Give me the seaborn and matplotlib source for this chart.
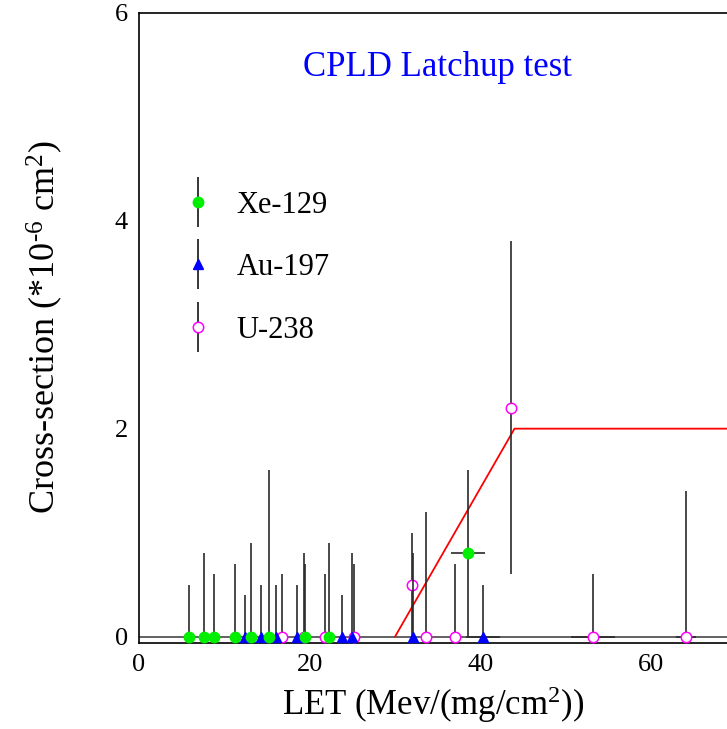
import matplotlib
matplotlib.use("Agg")
import matplotlib.pyplot as plt
from matplotlib.legend_handler import HandlerErrorbar
from matplotlib.container import ErrorbarContainer
from matplotlib.lines import Line2D
from matplotlib.collections import LineCollection
import seaborn as sns
import pandas as pd

# Xe-129 runs: LET, cross-section, error bars
xe_let = [5.8, 7.6, 8.8, 11.3, 13.1, 15.2, 19.4, 22.3, 38.6]
xe_sigma = [0, 0, 0, 0, 0, 0, 0, 0, 0.8]
xe_err_lo = [0, 0, 0, 0, 0, 0, 0, 0, 0.8]
xe_err_hi = [0.5, 0.8, 0.6, 0.7, 0.9, 1.6, 0.7, 0.9, 0.8]
xe_let_err = [0, 0, 0, 0, 0, 0, 0, 0, 2.0]

# Au-197 runs
au_let = [12.4, 14.3, 16.0, 18.5, 23.8, 24.9, 32.1, 40.3]
au_sigma = [0, 0, 0, 0, 0, 0, 0, 0]
au_err_lo = [0, 0, 0, 0, 0, 0, 0, 0]
au_err_hi = [0.4, 0.5, 0.5, 0.5, 0.4, 0.8, 0.8, 0.5]
au_let_err = [0, 0, 0, 0, 0, 0, 0, 2.0]

# U-238 runs
u_let = [16.8, 19.3, 21.8, 25.2, 32.0, 33.6, 37.0, 43.6, 53.2, 64.1]
u_sigma = [0, 0, 0, 0, 0.5, 0, 0, 2.2, 0, 0]
u_err_lo = [0, 0, 0, 0, 0.5, 0, 0, 1.6, 0, 0]
u_err_hi = [0.6, 0.8, 0.6, 0.7, 0.5, 1.2, 0.7, 1.6, 0.6, 1.4]
u_let_err = [0, 0, 0, 0, 0, 0, 0, 0, 2.6, 1.2]

# Threshold fit
fit_let = [30, 44, 70]
fit_sigma = [0, 2, 2]

x_ticks = [0, 20, 40, 60]
y_ticks = [0, 2, 4, 6]

sns.set_theme(style="white")
plt.rcParams["font.family"] = ["Liberation Serif", "DejaVu Serif"]
plt.rcParams["mathtext.fontset"] = "custom"
plt.rcParams["mathtext.rm"] = "Liberation Serif"
plt.rcParams["mathtext.it"] = "Liberation Serif:italic"
plt.rcParams["mathtext.bf"] = "Liberation Serif:bold"
plt.rcParams["text.color"] = "black"
plt.rcParams["axes.labelcolor"] = "black"

fig = plt.figure(figsize=(7.27, 7.29), dpi=100)
ax = fig.add_axes([0.1912, 0.1184, 0.8088, 0.8642])

ax.axhline(0, color="#555555", lw=1.3, zorder=1)

fit = pd.DataFrame({"LET": fit_let, "sigma": fit_sigma})
sns.lineplot(data=fit, x="LET", y="sigma", color="red", lw=1.3, ax=ax, zorder=2.5)

series = [
    ("Xe-129", xe_let, xe_sigma, xe_err_lo, xe_err_hi, xe_let_err,
     dict(marker="o", color="#00ee00", mfc="#00ee00", mec="#00ee00", ms=7.5), 5),
    ("Au-197", au_let, au_sigma, au_err_lo, au_err_hi, au_let_err,
     dict(marker="^", color="#0000ff", mfc="#0000ff", mec="#0000ff", ms=7.5), 4),
    ("U-238", u_let, u_sigma, u_err_lo, u_err_hi, u_let_err,
     dict(marker="o", color="#ff00ff", mfc="white", mec="#ff00ff", ms=7.5, mew=1.1), 3),
]

handles = []
for name, lx, sy, lo, hi, xe, mstyle, z in series:
    ax.errorbar(lx, sy, yerr=[lo, hi], xerr=xe, fmt="none",
                ecolor="#2a2a2a", elinewidth=1.2, capsize=0, zorder=z - 0.5)
    ax.plot(lx, sy, ls="none", zorder=z, **mstyle)
    # legend handle: marker with a vertical bar through it
    line = Line2D([], [], ls="none", **mstyle)
    bar = LineCollection([], colors="black", linewidths=1.1)
    handles.append(ErrorbarContainer((line, (), (bar,)), has_xerr=False,
                                     has_yerr=True, label=name))

ax.legend(handles=handles, labels=[h.get_label() for h in handles],
          loc="upper left", bbox_to_anchor=(0.0266, 0.742), frameon=False,
          fontsize=22, handlelength=1.82, handletextpad=0.36,
          labelspacing=1.1, borderpad=0,
          handler_map={ErrorbarContainer: HandlerErrorbar(xerr_size=0.5, yerr_size=0.82)})

ax.text(35.0, 5.39, "CPLD Latchup test", color="#0000ff", fontsize=25,
        ha="center", va="baseline")

ax.set_xlim(0, 68.9)
ax.set_ylim(-0.058, 6)
ax.set_xticks(x_ticks)
ax.set_yticks(y_ticks)
ax.tick_params(direction="in", length=7, width=1.1, labelsize=19, pad=8,
               color="black", labelcolor="black")
for s in ["left", "bottom", "top"]:
    ax.spines[s].set_color("black")
    ax.spines[s].set_linewidth(1.2)
ax.spines["right"].set_visible(False)

ax.set_xlabel(r"LET (Mev/(mg/cm$^2$))", fontsize=25, labelpad=6)
ax.set_ylabel(r"Cross-section (*10$^{\text{-6}}$ cm$^2$)", fontsize=26, labelpad=36)

fig.savefig("out.png", dpi=100, facecolor="white")
